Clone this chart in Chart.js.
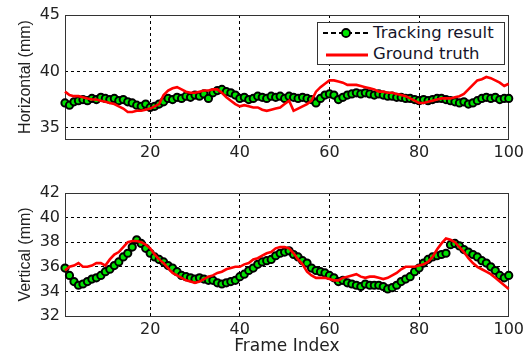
<!DOCTYPE html>
<html>
<head>
<meta charset="utf-8">
<script src="https://cdn.jsdelivr.net/npm/chart.js@4.4.1/dist/chart.umd.min.js"></script>
<style>
  html, body { margin: 0; padding: 0; background: #fff; }
  #wrap { position: relative; width: 528px; height: 355px; background: #fff; overflow: hidden; }
  canvas { position: absolute; left: 0; }
  #legend { position: absolute; left: 317px; top: 22px; width: 188px; height: 43px; box-sizing: border-box;
            border: 1px solid #333; background: #fff; font-family: "DejaVu Sans", sans-serif; font-size: 16.5px; color: #15152a; }
  #legend .t { position: absolute; left: 55px; line-height: 1; white-space: nowrap; }
  #legend svg { position: absolute; left: 0; top: 0; }
</style>
</head>
<body>
<div id="wrap">
  <canvas id="c1" width="528" height="165" style="top:0"></canvas>
  <canvas id="c2" width="528" height="190" style="top:165px"></canvas>
  <div id="legend">
    <svg width="60" height="43">
      <line x1="5" y1="10" x2="50" y2="10" stroke="#000" stroke-width="2" stroke-dasharray="5,3"/>
      <circle cx="28" cy="10" r="4" fill="#00e600" stroke="#000" stroke-width="1.8"/>
      <line x1="8" y1="32" x2="50" y2="32" stroke="#ff0000" stroke-width="3"/>
    </svg>
    <span class="t" style="top:2px">Tracking result</span>
    <span class="t" style="top:23px">Ground truth</span>
  </div>
</div>
<script>
// ---- data ----
const frames = Array.from({length: 100}, (_, i) => i + 1);
const xTicks = [20, 40, 60, 80, 100];
const hTicks = [35, 40, 45];
const vTicks = [32, 34, 36, 38, 40, 42];

const horizTracking = [
  37.2, 37.0, 37.3, 37.4, 37.5, 37.4, 37.6, 37.5, 37.7, 37.6,
  37.5, 37.6, 37.4, 37.5, 37.3, 37.2, 37.0, 36.9, 37.1, 36.8,
  36.9, 37.1, 37.3, 37.6, 37.5, 37.7, 37.6, 37.8, 37.7, 37.9,
  37.8, 38.0, 37.6, 38.1, 38.3, 38.4, 38.2, 38.1, 37.9, 37.6,
  37.7, 37.5, 37.6, 37.8, 37.7, 37.6, 37.8, 37.7, 37.8, 37.6,
  37.8, 37.7, 37.6, 37.7, 37.6, 37.5, 37.2, 37.6, 37.9, 38.0,
  37.9, 37.5, 37.7, 37.9, 38.0, 38.1, 38.0, 38.1, 38.0, 37.9,
  38.0, 37.9, 37.8, 37.8, 37.7, 37.7, 37.6, 37.6, 37.5, 37.4,
  37.5, 37.4, 37.5, 37.6, 37.6, 37.5, 37.4, 37.3, 37.2, 37.3,
  37.1, 37.2, 37.4, 37.6, 37.7, 37.6, 37.7, 37.5, 37.6, 37.6
];
const horizTruth = [
  38.2, 37.9, 37.8, 37.8, 37.7, 37.6, 37.5, 37.5, 37.4, 37.3,
  37.2, 37.1, 36.9, 36.7, 36.4, 36.4, 36.5, 36.5, 36.6, 36.7,
  36.9, 37.1, 37.9, 38.3, 38.5, 38.6, 38.4, 38.2, 38.1, 38.1,
  38.2, 38.3, 38.3, 38.4, 38.4, 38.1, 37.7, 37.4, 37.1, 36.9,
  37.0, 36.9, 36.8, 36.8, 36.6, 36.5, 36.6, 36.7, 36.8, 37.1,
  37.4, 36.5, 36.7, 36.9, 37.1, 37.4, 38.2, 38.6, 38.9, 39.2,
  39.2, 39.1, 39.0, 38.8, 38.8, 38.8, 38.7, 38.6, 38.5, 38.4,
  38.2, 38.2, 38.1, 38.1, 38.0, 37.9, 37.8, 37.6, 37.4, 37.2,
  37.2, 37.3, 37.4, 37.5, 37.6, 37.6, 37.6, 37.7, 37.8, 38.0,
  38.4, 38.8, 39.2, 39.3, 39.5, 39.4, 39.2, 39.0, 38.7, 38.9
];
const vertTracking = [
  35.9, 35.3, 34.8, 34.5, 34.6, 34.8, 35.0, 35.1, 35.3, 35.6,
  35.8, 36.1, 36.4, 36.8, 37.1, 37.6, 38.2, 37.9, 37.5, 37.1,
  36.8, 36.6, 36.4, 36.1, 35.9, 35.6, 35.3, 35.2, 35.1, 35.0,
  35.1, 35.0, 34.9, 34.9, 34.7, 34.6, 34.7, 34.8, 34.9, 35.2,
  35.4, 35.7, 35.9, 36.2, 36.4, 36.5, 36.6, 36.9, 37.1, 37.2,
  37.3, 37.0, 36.8, 36.5, 36.3, 35.9, 35.7, 35.6, 35.5, 35.3,
  35.1, 34.8, 34.9, 34.7, 34.6, 34.5, 34.4, 34.6, 34.5, 34.5,
  34.5, 34.4, 34.2, 34.3, 34.5, 34.8, 35.0, 35.2, 35.6, 35.9,
  36.3, 36.6, 36.8, 36.9, 37.0, 37.1, 37.8, 37.9, 37.7, 37.4,
  37.2, 37.0, 36.8, 36.5, 36.3, 36.0, 35.7, 35.3, 35.1, 35.3
];
const vertTruth = [
  35.7, 36.0, 36.1, 36.3, 36.0, 36.0, 36.1, 36.3, 36.3, 36.1,
  36.6, 37.0, 37.2, 37.6, 38.0, 38.1, 38.1, 38.0, 37.8, 37.5,
  37.0, 36.6, 36.3, 35.9, 35.5, 35.3, 35.1, 34.9, 34.8, 34.7,
  34.8, 35.0, 35.2, 35.3, 35.5, 35.6, 35.8, 35.9, 36.0, 36.0,
  36.2, 36.3, 36.6, 36.7, 36.9, 37.1, 37.2, 37.5, 37.6, 37.6,
  37.5, 37.1, 36.6, 36.2, 35.6, 35.3, 35.1, 35.1, 35.1, 35.0,
  34.9, 34.9, 35.1, 35.2, 35.3, 35.4, 35.2, 35.1, 35.2, 35.2,
  35.1, 35.0, 35.1, 35.3, 35.5, 35.8, 36.0, 36.0, 36.0, 36.1,
  36.2, 36.4, 36.8, 37.4, 37.9, 38.3, 38.2, 38.0, 37.6, 37.2,
  36.7, 36.3, 36.0, 35.8, 35.6, 35.4, 35.1, 34.8, 34.5, 34.2
];

// ---- helpers ----
const pts = arr => frames.map((f, i) => ({x: f, y: arr[i]}));

const boxPlugin = {
  id: 'box',
  beforeDatasetsDraw(chart) {
    const {ctx, chartArea: a} = chart;
    ctx.save();
    ctx.strokeStyle = '#333';
    ctx.lineWidth = 1;
    ctx.setLineDash([]);
    ctx.strokeRect(Math.round(a.left) + 0.5, Math.round(a.top) + 0.5, Math.round(a.width) - 1, Math.round(a.height));
    ctx.restore();
  }
};

function makeChart(id, trackArr, truthArr, yMin, yMax, yTickVals, yTitle, xTitle, padTop, xAxisHeight) {
  return new Chart(document.getElementById(id), {
    type: 'line',
    data: {
      datasets: [
        {
          label: 'Ground truth',
          data: pts(truthArr),
          borderColor: '#ff0000',
          borderWidth: 2.6,
          pointRadius: 0,
          tension: 0,
          clip: false
        },
        {
          label: 'Tracking result',
          data: pts(trackArr),
          borderColor: '#000',
          borderWidth: 1.5,
          borderDash: [4, 3],
          pointRadius: 3.6,
          pointBackgroundColor: '#00e000',
          pointBorderColor: '#000',
          pointBorderWidth: 2,
          tension: 0,
          clip: false
        }
      ]
    },
    options: {
      responsive: false,
      animation: false,
      devicePixelRatio: 1,
      layout: { padding: { top: padTop, right: 18, left: 0, bottom: 0 } },
      plugins: { legend: { display: false }, tooltip: { enabled: false } },
      scales: {
        x: {
          type: 'linear',
          min: 1, max: 100,
          afterBuildTicks: s => { s.ticks = xTicks.map(v => ({value: v})); },
          afterFit: s => { s.height = xAxisHeight; },
          grid: { color: '#000', lineWidth: 1, drawTicks: false },
          border: { display: false, dash: [3, 3] },
          ticks: { padding: 4, autoSkip: false, maxRotation: 0, color: '#222',
                   font: { family: 'DejaVu Sans', size: 16 } },
          title: xTitle ? { display: true, text: xTitle, color: '#222',
                   font: { family: 'DejaVu Sans', size: 17, lineHeight: 1 }, padding: { top: -2, bottom: 0 } }
                 : { display: false }
        },
        y: {
          min: yMin, max: yMax,
          afterBuildTicks: s => { s.ticks = yTickVals.map(v => ({value: v})); },
          afterFit: s => { s.width = 65; },
          grid: { color: '#000', lineWidth: 1, drawTicks: false },
          border: { display: false, dash: [3, 3] },
          ticks: { padding: 5, color: '#222', font: { family: 'DejaVu Sans', size: 16 } },
          title: { display: true, text: yTitle, color: '#222',
                   font: { family: 'Liberation Sans', size: 16, lineHeight: 1.2 }, padding: { top: 15.5, bottom: 0 } }
        }
      }
    },
    plugins: [boxPlugin]
  });
}

makeChart('c1', horizTracking, horizTruth, 34, 45, hTicks, 'Horizontal (mm)', null, 15, 26);
makeChart('c2', vertTracking, vertTruth, 32, 42, vTicks, 'Vertical (mm)', 'Frame Index', 28, 39);
</script>
</body>
</html>
